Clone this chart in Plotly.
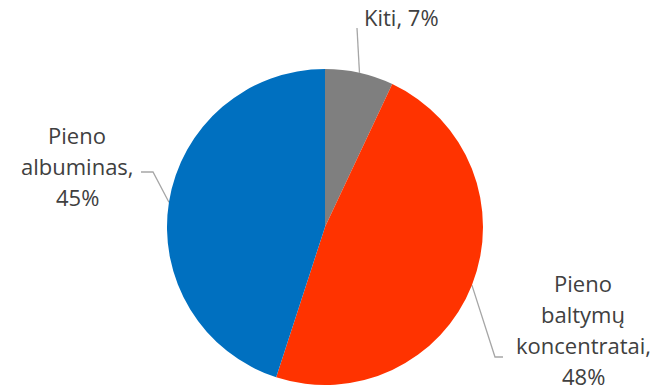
import numpy as np
import plotly.graph_objects as go

labels = ['Kiti', 'Pieno<br>baltymų<br>koncentratai', 'Pieno<br>albuminas']
values = [7, 48, 45]
colors = ['#7f7f7f', '#ff3300', '#0070c0']

W, H = 666, 391
CX, CY, R = 325, 227, 158  # pie centre / radius in pixels
LINE_H = 31  # label line spacing, px

# label anchor (x, y, xanchor), separator before the percentage, elbow of leader line
label_pos = [(362, 17, 'left'), (583, 329, 'center'), (77, 166, 'center')]
seps = [' ', '<br>', '<br>']
elbows = [None, (495, 357, 503), (153, 172, 141)]

fig = go.Figure()
fig.add_trace(go.Pie(
    values=values,
    labels=labels,
    sort=False,
    direction='clockwise',
    rotation=0,
    marker={'colors': colors, 'line': {'width': 0}},
    textinfo='none',
    hoverinfo='label+percent',
    showlegend=False,
    domain={'x': [(CX - R) / W, (CX + R) / W], 'y': [(H - CY - R) / H, (H - CY + R) / H]},
))

# leader lines from slice midpoints on the rim
total = sum(values)
cum = np.cumsum([0] + values)
for i, v in enumerate(values):
    ang = 2 * np.pi * (cum[i] + v / 2) / total
    ex, ey = CX + R * np.sin(ang), CY - R * np.cos(ang)
    if elbows[i] is None:
        xs, ys = [ex, label_pos[i][0] - 5], [ey, label_pos[i][1] + 11]
    else:
        bx, by, tx = elbows[i]
        xs, ys = [ex, bx, tx], [ey, by, by]
    fig.add_trace(go.Scatter(
        x=xs, y=ys, mode='lines',
        line={'color': '#a6a6a6', 'width': 1.3},
        hoverinfo='skip', showlegend=False,
    ))

    lx, ly, anc = label_pos[i]
    lines = f'{labels[i]},{seps[i]}{v}%'.split('<br>')
    n = len(lines)
    for j, line in enumerate(lines):
        fig.add_annotation(
            x=lx, y=ly + (j - (n - 1) / 2) * LINE_H, xref='x', yref='y',
            text=line,
            showarrow=False,
            xanchor=anc, yanchor='middle',
            font={'family': 'Open Sans', 'size': 22, 'color': '#404040'},
        )

fig.update_xaxes(range=[0, W], visible=False, fixedrange=True)
fig.update_yaxes(range=[H, 0], visible=False, fixedrange=True)
fig.update_layout(
    width=W, height=H,
    margin={'l': 0, 'r': 0, 't': 0, 'b': 0},
    paper_bgcolor='white',
    plot_bgcolor='rgba(0,0,0,0)',
)
fig.write_html('out.html', config={'displayModeBar': False},
               post_script="document.body.style.margin='0';")
